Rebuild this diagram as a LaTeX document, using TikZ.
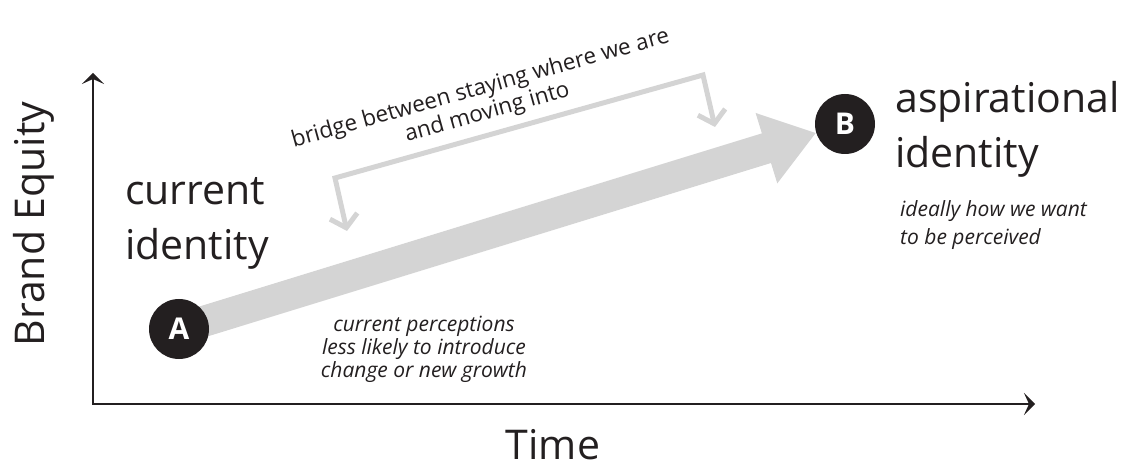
\documentclass[tikz,border=0pt]{standalone}
\usepackage{fontspec}
\setmainfont{Open Sans}
\usetikzlibrary{arrows.meta,backgrounds}
\definecolor{ink}{HTML}{231F20}
\definecolor{paleline}{HTML}{D4D4D4}

\begin{document}
\begin{tikzpicture}[x=1pt,y=-1pt,
    big/.style={font=\fontsize{41}{55}\selectfont, text=ink, inner sep=0pt},
    note/.style={font=\fontsize{21}{28}\selectfont\itshape, text=ink, inner sep=0pt},
    stage/.style={circle, fill=ink, text=white, minimum size=60pt, inner sep=0pt, font=\fontsize{30}{30}\selectfont\bfseries},
    bridgeline/.style={draw=paleline, line width=5pt, arrows={Straight Barb[length=12pt,width=28pt]-Straight Barb[length=12pt,width=28pt]}}]
	\useasboundingbox (0,0) rectangle (1128,465);
	\coordinate (origin) at (93,404);
	\coordinate (yend) at (93,73);
	\coordinate (xend) at (1035,404);
	\draw[ink, line width=1.7pt, arrows={Stealth[length=11pt,width=22pt,inset=5pt]-Stealth[length=11pt,width=22pt,inset=5pt]}] (yend) -- (origin) -- (xend);
	\node[big, rotate=90, anchor=base] (equity) at (45,224) {Brand Equity};
	\node[big, anchor=base] (time) at (553,459) {Time};

	\node[stage] (A) at (179,329) {A};
	\node[stage] (B) at (845,124) {B};
	\begin{pgfonlayer}{background}
		\draw[paleline, line width=31pt, -{Triangle[length=52pt,width=70pt]}] (A.center) -- (B);
	\end{pgfonlayer}

	\coordinate (lefttip) at (347,231);
	\coordinate (leftcorner) at (335,178);
	\coordinate (rightcorner) at (703,75);
	\coordinate (righttip) at (715,127);
	\draw[bridgeline] (lefttip) -- (leftcorner) -- (rightcorner) -- (righttip);
	\node[font=\fontsize{22.5}{25}\selectfont, text=ink, inner sep=0pt, rotate=15.6, align=center] (bridgelabel) at (484,101) {bridge between staying where we are\\and moving into};

	\node[big, anchor=base west, align=left] (current) at (125,260) {current\\identity};
	\node[big, anchor=base west, align=left] (aspire) at (895,168) {aspirational\\identity};
	\node[note, anchor=base west, align=left] (ideal) at (900,245) {ideally how we want\\to be perceived};
	\node[note, font=\fontsize{21}{23}\selectfont\itshape, align=center] (percept) at (424,349) {current perceptions\\less likely to introduce\\change or new growth};
\end{tikzpicture}
\end{document}
